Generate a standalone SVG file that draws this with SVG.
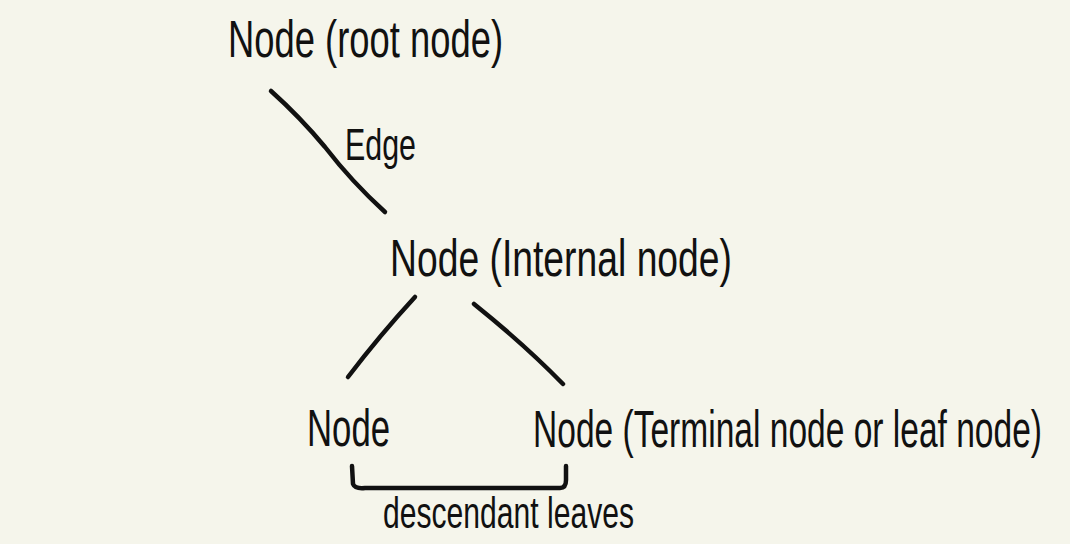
<svg xmlns="http://www.w3.org/2000/svg" width="1070" height="544" viewBox="0 0 1070 544">
<style>
.t{font-family:"Liberation Sans",Arial,sans-serif;fill:#111}
.c{fill:none;stroke:#111;stroke-width:4.5;stroke-linecap:round;stroke-linejoin:round}
</style>
<rect width="1070" height="544" fill="#f5f5eb"/>
<g id="connectors">
<path class="c" d="M271,91 Q300,117 325,147 Q352,182 385,212"/>
<path class="c" d="M415,297 Q380,335 348,377"/>
<path class="c" d="M474,304 Q525,345 563,384"/>
<path class="c" d="M352,466 L353,484 Q355,489 365,488 L560,488 Q566,488 566,480 L566,466"/>
</g>
<g id="root"><text class="t" transform="translate(228,57) scale(1,1.43)" font-size="36.4" textLength="275" lengthAdjust="spacingAndGlyphs">Node (root node)</text></g>
<g id="edge-label"><text class="t" transform="translate(345,160) scale(1,1.45)" font-size="30.4" textLength="71" lengthAdjust="spacingAndGlyphs">Edge</text></g>
<g id="internal"><text class="t" transform="translate(390,276) scale(1,1.39)" font-size="37.3" textLength="342" lengthAdjust="spacingAndGlyphs">Node (Internal node)</text></g>
<g id="leaf1"><text class="t" transform="translate(307,446) scale(1,1.5)" font-size="34.7" textLength="83" lengthAdjust="spacingAndGlyphs">Node</text></g>
<g id="leaf2"><text class="t" transform="translate(533,447) scale(1,1.56)" font-size="33.3" textLength="509" lengthAdjust="spacingAndGlyphs">Node (Terminal node or leaf node)</text></g>
<g id="bracket-label"><text class="t" transform="translate(383,528) scale(1,1.5)" font-size="30.1" textLength="251" lengthAdjust="spacingAndGlyphs">descendant leaves</text></g>
</svg>
